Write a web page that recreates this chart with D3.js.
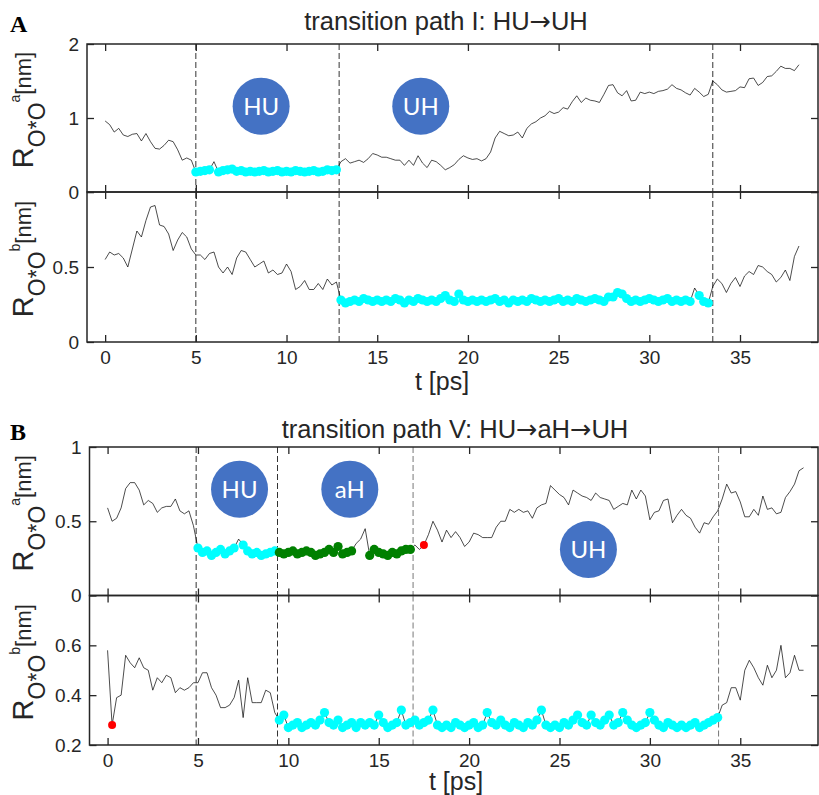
<!DOCTYPE html>
<html lang="en">
<head>
  <meta charset="UTF-8">
  <title>transition paths</title>
  <style>
    body { margin: 0; background: #fff; }
    svg { display: block; }
    text { font-family: 'Liberation Sans', Arial, Helvetica, sans-serif; fill: #262626; }
    .tick line { stroke: #262626; stroke-width: 1.3; }
    .tick text { font-size: 19px; fill: #262626; }
    .letter { font-family: 'Liberation Serif', 'Times New Roman', serif; font-weight: bold; font-size: 24px; fill: #000; }
    .bubble text { font-family: Lato, 'Open Sans', sans-serif; font-size: 24px; fill: #fff; }
    .arrow { font-family: 'DejaVu Sans', sans-serif; }
  </style>
</head>
<body>
<div class="chart"></div>
<script src="https://d3js.org/d3.v7.min.js"></script>
<script>
  // time step of the trajectories [ps], first point at t = 0
  let dt = 0.25
  let tTicks = [0, 5, 10, 15, 20, 25, 30, 35]

  // panel A: R_O*O^a and R_O*O^b [nm]
  let rAa = [
    0.96, 0.91, 0.81, 0.86, 0.77, 0.75, 0.78, 0.79, 0.69, 0.79,
    0.68, 0.59, 0.58, 0.63, 0.70, 0.68, 0.57, 0.43, 0.46, 0.43,
    0.27,
    0.28, 0.29, 0.30, 0.41, 0.27, 0.29, 0.30, 0.31, 0.28, 0.29,
    0.27, 0.28, 0.27, 0.28, 0.29, 0.27, 0.28, 0.29, 0.27, 0.28,
    0.27, 0.29, 0.28, 0.27, 0.28, 0.29, 0.27, 0.28, 0.30, 0.29, 0.30,
    0.41, 0.45, 0.39, 0.41, 0.43, 0.40, 0.45, 0.52, 0.50, 0.47,
    0.47, 0.45, 0.43, 0.43, 0.36, 0.43, 0.36, 0.49, 0.39, 0.33,
    0.43, 0.41, 0.36, 0.30, 0.33, 0.37, 0.44, 0.49, 0.46, 0.44,
    0.45, 0.42, 0.45, 0.54, 0.73, 0.82, 0.79, 0.76, 0.77, 0.81,
    0.73, 0.86, 0.92, 0.95, 1.00, 1.03, 1.09, 1.06, 1.08, 1.14, 1.12,
    1.22, 1.30, 1.21, 1.27, 1.24, 1.23, 1.21, 1.32, 1.44, 1.45,
    1.34, 1.30, 1.37, 1.23, 1.24, 1.35, 1.33, 1.35, 1.33, 1.36,
    1.37, 1.39, 1.45, 1.40, 1.38, 1.34, 1.31, 1.40, 1.35, 1.29,
    1.32, 1.50, 1.45, 1.38, 1.35, 1.36, 1.37, 1.42, 1.41, 1.53,
    1.54, 1.44, 1.48, 1.56, 1.57, 1.63, 1.70, 1.67, 1.67, 1.64, 1.72
  ]
  let rAb = [
    0.55, 0.60, 0.58, 0.59, 0.56, 0.50, 0.62, 0.74, 0.70, 0.81,
    0.90, 0.91, 0.78, 0.77, 0.72, 0.61, 0.68, 0.73, 0.70, 0.62,
    0.58, 0.58, 0.55, 0.59, 0.60, 0.50, 0.46, 0.50, 0.45, 0.56,
    0.61, 0.60, 0.55, 0.50, 0.52, 0.54, 0.46, 0.48, 0.45, 0.46,
    0.52, 0.47, 0.35, 0.37, 0.41, 0.35, 0.35, 0.39, 0.35, 0.42,
    0.38, 0.40,
    0.28, 0.26, 0.27, 0.28, 0.27, 0.29, 0.28, 0.27, 0.28, 0.27,
    0.28, 0.27, 0.29, 0.28, 0.26, 0.28, 0.27, 0.29, 0.28, 0.27,
    0.28, 0.27, 0.29, 0.31, 0.28, 0.27, 0.32, 0.28, 0.27, 0.28,
    0.27, 0.28, 0.27, 0.28, 0.29, 0.27, 0.28, 0.26, 0.28, 0.27,
    0.28, 0.27, 0.29, 0.28, 0.27, 0.28, 0.27, 0.28, 0.29, 0.27,
    0.28, 0.27, 0.29, 0.28, 0.27, 0.28, 0.29, 0.28, 0.27, 0.30,
    0.30, 0.33, 0.32, 0.29, 0.27, 0.28, 0.27, 0.28, 0.29, 0.28,
    0.27, 0.28, 0.29, 0.27, 0.28, 0.27, 0.28, 0.27, 0.36, 0.31,
    0.27, 0.26,
    0.37, 0.42, 0.39, 0.33, 0.39, 0.43, 0.37, 0.44, 0.47, 0.45,
    0.51, 0.50, 0.47, 0.45, 0.40, 0.43, 0.48, 0.41, 0.57, 0.64
  ]

  // panel B: R_O*O^a and R_O*O^b [nm]
  let rBa = [
    0.59, 0.50, 0.52, 0.59, 0.72, 0.76, 0.76, 0.71, 0.61, 0.64,
    0.62, 0.56, 0.59, 0.60, 0.60, 0.65, 0.57, 0.55, 0.57, 0.47,
    0.32, 0.29, 0.30, 0.27, 0.29, 0.31, 0.28, 0.30, 0.32, 0.38,
    0.34, 0.30, 0.28, 0.29, 0.27, 0.28, 0.29, 0.30,
    0.29, 0.28, 0.29, 0.30, 0.28, 0.29, 0.30, 0.29, 0.27, 0.28,
    0.29, 0.31, 0.29, 0.33, 0.28, 0.29, 0.30,
    0.35, 0.38, 0.45,
    0.27, 0.31, 0.29, 0.28, 0.27, 0.29, 0.28, 0.30, 0.31, 0.31,
    0.34, 0.31, 0.34, 0.41, 0.50, 0.44, 0.36, 0.44, 0.39, 0.43,
    0.39, 0.33, 0.36, 0.42, 0.41, 0.39, 0.39, 0.39, 0.46, 0.50,
    0.50, 0.58, 0.56, 0.58, 0.56, 0.57, 0.52, 0.59,
    0.61, 0.62, 0.74, 0.71, 0.68, 0.66, 0.61, 0.71, 0.69, 0.67,
    0.66, 0.64, 0.69, 0.66, 0.65, 0.64, 0.58, 0.60, 0.62, 0.61,
    0.71, 0.65, 0.71, 0.67, 0.51, 0.56, 0.57, 0.64, 0.65, 0.49,
    0.54, 0.58, 0.54, 0.52, 0.46, 0.42, 0.49, 0.48, 0.53, 0.57,
    0.65, 0.75, 0.69, 0.70, 0.63, 0.53, 0.53, 0.58, 0.54, 0.67,
    0.58, 0.59, 0.55, 0.56, 0.66, 0.70, 0.75, 0.84, 0.86
  ]
  let rBb = [
    0.58, 0.28, 0.39, 0.40, 0.56, 0.53, 0.51, 0.55, 0.51, 0.50,
    0.42, 0.47, 0.45, 0.48, 0.47, 0.41, 0.43, 0.42, 0.43, 0.45,
    0.45, 0.49, 0.49, 0.43, 0.40, 0.35, 0.35, 0.36, 0.39, 0.46,
    0.31, 0.47, 0.37, 0.37, 0.37, 0.42, 0.41, 0.33,
    0.30, 0.32, 0.27, 0.28, 0.29, 0.27, 0.28, 0.29, 0.28, 0.30,
    0.33, 0.29, 0.28, 0.30, 0.27, 0.28, 0.29, 0.27, 0.29, 0.28,
    0.29, 0.28, 0.32, 0.29, 0.27, 0.28, 0.29, 0.34, 0.28, 0.29,
    0.30, 0.28, 0.29, 0.30, 0.34, 0.28, 0.27, 0.28, 0.27, 0.29,
    0.28, 0.27, 0.28, 0.29, 0.27, 0.28, 0.33, 0.29, 0.28, 0.30,
    0.28, 0.27, 0.29, 0.28, 0.27, 0.29, 0.28, 0.30, 0.34, 0.28,
    0.27, 0.28, 0.27, 0.29, 0.28, 0.30, 0.32, 0.29, 0.28, 0.32,
    0.29, 0.28, 0.30, 0.32, 0.28, 0.29, 0.33, 0.30, 0.28, 0.27,
    0.28, 0.29, 0.33, 0.30, 0.28, 0.27, 0.29, 0.28, 0.27, 0.28,
    0.27, 0.28, 0.29, 0.27, 0.28, 0.29, 0.30, 0.31,
    0.36, 0.37, 0.43, 0.43, 0.38, 0.50, 0.54, 0.51, 0.47, 0.44,
    0.52, 0.47, 0.50, 0.60, 0.47, 0.49, 0.56, 0.50, 0.50
  ]

  // state assignment: time windows [ps] and distance cut-off [nm]
  let stateCut = 0.35
  let cyanSpanAa = [5.0, 12.95]
  let cyanSpanAb = [13.0, 33.4]
  let cyanSpanBa = [4.9, 9.4]
  let greenSpanBa = [9.4, 16.9]
  let cyanSpanBb = [9.4, 33.8]
  let redTimesBa = [17.5]
  let redTimesBb = [0.25]

  // dashed boundaries [ps]
  let vlinesA = [5.0, 12.9, 33.5]
  let vlinesB = [4.9, 9.4, 16.9, 33.8]

  // state bubbles: name, t [ps], R [nm]
  let bubblesA = [['HU', 8.6, 1.16], ['UH', 17.4, 1.16]]
  let bubblesB = [['HU', 7.3, 0.716], ['aH', 13.4, 0.716], ['UH', 26.6, 0.31]]

  let titleA = ['transition path I: HU', 'UH']
  let titleB = ['transition path V: HU', 'aH', 'UH']

  let cyan = '#00ffff'
  let green = '#008000'
  let red = '#ff0000'
  let tDomain = [-1, 39.3]

  let figs = [
    {
      letter: 'A', letterY: 32, title: titleA, titleX: 446, titleY: 30,
      x0: 87, x1: 818, xlabelX: 442, xlabelY: 390,
      vlines: vlinesA, vcolors: ['#333', '#333', '#333'], bubbles: bubblesA,
      rows: [
        { y0: 44, y1: 192, domain: [0, 2], ticks: [0, 1, 2], labels: [0, 1, 2], data: rAa, sup: 'a',
          states: [{ span: cyanSpanAa, color: cyan }], red: [] },
        { y0: 192, y1: 342, domain: [0, 1], ticks: [0, 0.5, 1], labels: [0, 0.5], data: rAb, sup: 'b',
          states: [{ span: cyanSpanAb, color: cyan }], red: [] }
      ]
    },
    {
      letter: 'B', letterY: 440, title: titleB, titleX: 455, titleY: 438,
      x0: 89.5, x1: 818, xlabelX: 456, xlabelY: 790,
      vlines: vlinesB, vcolors: ['#333', '#333', '#777', '#777'], bubbles: bubblesB,
      rows: [
        { y0: 447, y1: 595.5, domain: [0, 1], ticks: [0, 0.5, 1], labels: [0, 0.5, 1], data: rBa, sup: 'a',
          states: [{ span: cyanSpanBa, color: cyan }, { span: greenSpanBa, color: green }], red: redTimesBa },
        { y0: 595.5, y1: 745, domain: [0.2, 0.8], ticks: [0.2, 0.4, 0.6], labels: [0.2, 0.4, 0.6], data: rBb, sup: 'b',
          states: [{ span: cyanSpanBb, color: cyan }], red: redTimesBb }
      ]
    }
  ]

  let svg = d3.select('.chart').append('svg').attr('width', 819).attr('height', 795)

  figs.forEach(drawFig)

  function drawFig (f) {
    let x = d3.scaleLinear().domain(tDomain).range([f.x0, f.x1])

    svg.append('text').attr('class', 'letter').attr('x', 10).attr('y', f.letterY).text(f.letter)

    // title, arrows from DejaVu so they are full width
    let title = svg.append('text').attr('x', f.titleX).attr('y', f.titleY)
      .attr('text-anchor', 'middle').style('font-size', '25.5px')
    f.title.forEach((part, i) => {
      if (i > 0) title.append('tspan').attr('class', 'arrow').text('\u2192')
      title.append('tspan').text(part)
    })

    f.rows.forEach((r, i) => {
      let y = drawRow(f, r, x, i === f.rows.length - 1)
      if (i === 0) drawBubbles(f.bubbles, x, y)
    })

    svg.append('text').attr('x', f.xlabelX).attr('y', f.xlabelY)
      .attr('text-anchor', 'middle').style('font-size', '25px').text('t [ps]')
  }

  function drawRow (f, r, x, isLast) {
    let y = d3.scaleLinear().domain(r.domain).range([r.y1, r.y0])
    let g = svg.append('g')
    let pts = r.data.map((v, i) => ({ t: i * dt, v: v }))

    // dashed state boundaries
    g.selectAll('.vline').data(f.vlines).enter().append('line')
      .attr('x1', d => x(d)).attr('x2', d => x(d))
      .attr('y1', r.y0).attr('y2', r.y1)
      .attr('stroke', (d, i) => f.vcolors[i])
      .attr('stroke-width', 1)
      .attr('stroke-dasharray', '6,3')

    g.append('path').datum(pts)
      .attr('d', d3.line().x(d => x(d.t)).y(d => y(d.v)))
      .attr('fill', 'none').attr('stroke', '#000').attr('stroke-width', 0.7)

    r.states.forEach(s => {
      let inState = pts.filter(d => d.t >= s.span[0] && d.t <= s.span[1] && d.v < stateCut)
      g.selectAll(null).data(inState).enter().append('circle')
        .attr('cx', d => x(d.t)).attr('cy', d => y(d.v))
        .attr('r', 4.6).attr('fill', s.color)
    })

    g.selectAll(null).data(pts.filter(d => r.red.indexOf(d.t) >= 0)).enter().append('circle')
      .attr('cx', d => x(d.t)).attr('cy', d => y(d.v))
      .attr('r', 4).attr('fill', red)

    // box + inward ticks on every side
    let noLabel = () => ''
    let yFmt = d => r.labels.indexOf(d) >= 0 ? String(d) : ''
    g.append('g').attr('transform', 'translate(' + f.x0 + ',0)')
      .call(d3.axisLeft(y).tickValues(r.ticks).tickSize(-7).tickPadding(8).tickFormat(yFmt))
    g.append('g').attr('transform', 'translate(' + f.x1 + ',0)')
      .call(d3.axisRight(y).tickValues(r.ticks).tickSize(-7).tickFormat(noLabel))
    g.append('g').attr('transform', 'translate(0,' + r.y0 + ')')
      .call(d3.axisTop(x).tickValues(tTicks).tickSize(-7).tickFormat(noLabel))
    g.append('g').attr('transform', 'translate(0,' + r.y1 + ')')
      .call(d3.axisBottom(x).tickValues(tTicks).tickSize(-7).tickPadding(9).tickFormat(isLast ? d => String(d) : noLabel))
    g.selectAll('.domain').remove()

    g.append('rect').attr('x', f.x0).attr('y', r.y0)
      .attr('width', f.x1 - f.x0).attr('height', r.y1 - r.y0)
      .attr('fill', 'none').attr('stroke', '#262626').attr('stroke-width', 1.5)

    // y label: R_{O*O^a} [nm]
    let lab = svg.append('text')
      .attr('transform', 'translate(33,' + ((r.y0 + r.y1) / 2 - 8) + ') rotate(-90)')
      .attr('text-anchor', 'middle')
    lab.append('tspan').style('font-size', '29px').text('R')
    lab.append('tspan').attr('dy', 12).style('font-size', '23px').text('O*O')
    lab.append('tspan').attr('dy', -25).style('font-size', '14px').text(r.sup)
    lab.append('tspan').attr('dy', 11).style('font-size', '22px').text('[nm]')

    return y
  }

  function drawBubbles (list, x, y) {
    let b = svg.selectAll(null).data(list).enter().append('g').attr('class', 'bubble')
      .attr('transform', d => 'translate(' + x(d[1]) + ',' + y(d[2]) + ')')
    b.append('circle').attr('r', 28.5).attr('fill', '#4472c4')
    b.append('text').attr('text-anchor', 'middle').attr('dy', '0.36em').text(d => d[0])
  }
</script>
</body>
</html>
